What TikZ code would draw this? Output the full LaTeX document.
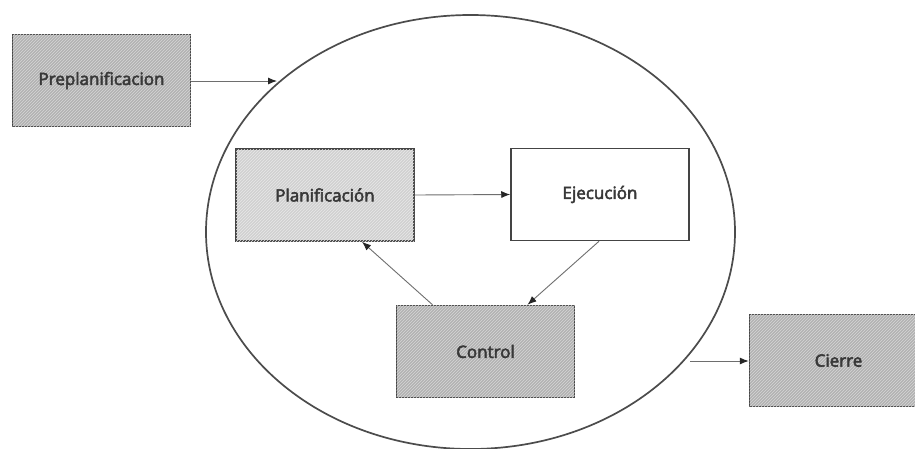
\documentclass[tikz,border=0pt]{standalone}
\usepackage{fontspec}
\setmainfont{Open Sans}
\newfontfamily\labelfont{Open Sans}[FakeBold=3]
\usetikzlibrary{shapes.geometric,arrows.meta,patterns}
\definecolor{edge}{HTML}{444444}
\definecolor{wire}{HTML}{6E6E6E}
\definecolor{ink}{HTML}{383838}
\tikzset{
  phase/.style={draw=edge, line width=1.5pt, minimum width=178pt, minimum height=92pt,
    inner sep=0pt, font=\labelfont\fontsize{17}{20}\selectfont, text=ink},
  darkphase/.style={phase, fill=gray!60, postaction={pattern=north east lines, pattern color=gray!32}},
  lightphase/.style={phase, fill=gray!36, postaction={pattern=north east lines, pattern color=gray!18}},
  plainphase/.style={phase, fill=white},
  flow/.style={draw=wire, line width=0.9pt, -{Latex[length=9pt,width=7pt,color=black!85]}},
}
\begin{document}
\begin{tikzpicture}[x=1pt,y=-1pt]
  \useasboundingbox (0,0) rectangle (915,448);
  \clip (0,0) rectangle (915,448);
  \fill[white] (0,0) rectangle (915,448);

  % cycle boundary
  \node[draw=black!70, line width=1.7pt, ellipse, minimum width=529pt, minimum height=434pt,
        inner sep=0pt] (cycle) at (470.5,232) {};

  % phases
  \node[darkphase]  (pre)  at (101.5,80.5) {Preplanificacion};
  \node[lightphase] (plan) at (325,195)    {Planificación};
  \node[plainphase] (ejec) at (600,194.5)  {Ejecución};
  \node[darkphase]  (ctrl) at (485.5,351.5){Control};
  \node[darkphase]  (fin)  at (838.5,360.5){Cierre};

  % connectors
  \coordinate (into) at (277,81);
  \coordinate (out)  at (690,361);
  \draw[flow] (pre.east |- into) -- (into);
  \draw[flow] (plan.east) -- (ejec.west);
  \draw[flow] ([xshift=-1pt]ejec.south) -- ([xshift=42pt]ctrl.north);
  \draw[flow] ([xshift=-53pt]ctrl.north) -- ([xshift=37pt]plan.south);
  \draw[flow] (out) -- (fin.west |- out);
\end{tikzpicture}
\end{document}
